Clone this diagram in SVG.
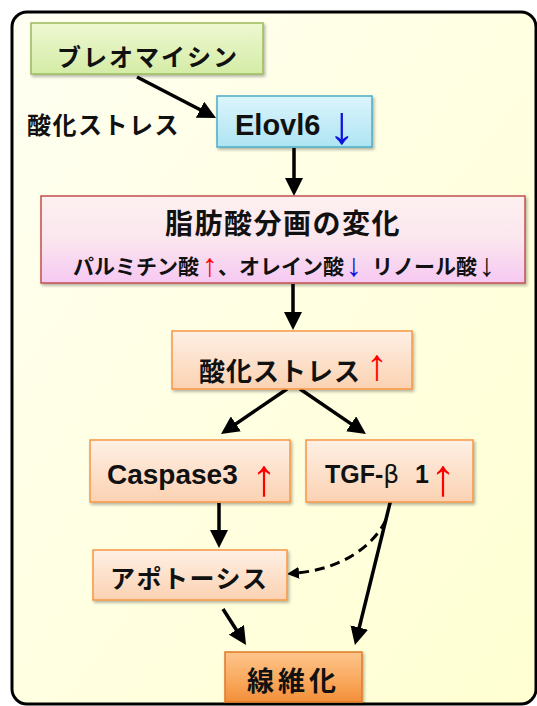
<svg xmlns="http://www.w3.org/2000/svg" width="537" height="706" viewBox="0 0 537 706">
<defs>
<linearGradient id="bg" x1="0" y1="0" x2="1" y2="1">
<stop offset="0" stop-color="#fffff2"/>
<stop offset="1" stop-color="#ffffd2"/>
</linearGradient>
<linearGradient id="gGreen" x1="0" y1="0" x2="0" y2="1">
<stop offset="0" stop-color="#eef8d2"/>
<stop offset="1" stop-color="#d4eca6"/>
</linearGradient>
<linearGradient id="gBlue" x1="0" y1="0" x2="0" y2="1">
<stop offset="0" stop-color="#dcf5fc"/>
<stop offset="1" stop-color="#aee4f3"/>
</linearGradient>
<linearGradient id="gPink" x1="0" y1="0" x2="0" y2="1">
<stop offset="0" stop-color="#fdf0f0"/>
<stop offset="0.5" stop-color="#fbe6ee"/>
<stop offset="1" stop-color="#f6c8f2"/>
</linearGradient>
<linearGradient id="gPeach" x1="0" y1="0" x2="0" y2="1">
<stop offset="0" stop-color="#fef0e5"/>
<stop offset="1" stop-color="#fbd2b2"/>
</linearGradient>
<linearGradient id="gOrange" x1="0" y1="0" x2="0" y2="1">
<stop offset="0" stop-color="#fdc58c"/>
<stop offset="0.6" stop-color="#f9a75a"/>
<stop offset="1" stop-color="#f28e3a"/>
</linearGradient>
<filter id="sh" x="-10%" y="-10%" width="120%" height="130%">
<feDropShadow dx="1.5" dy="2" stdDeviation="1.5" flood-color="#000" flood-opacity="0.3"/>
</filter>
<marker id="ah" viewBox="0 0 18 18" refX="4" refY="9" markerWidth="18" markerHeight="18" markerUnits="userSpaceOnUse" orient="auto">
<path d="M0,0 L18,9 L0,18 z" fill="#000"/>
</marker>
<marker id="ahs" viewBox="0 0 12 12" refX="2" refY="6" markerWidth="12" markerHeight="12" markerUnits="userSpaceOnUse" orient="auto">
<path d="M0,0 L12,6 L0,12 z" fill="#000"/>
</marker>
<style>
.jp{font-family:"Noto Sans CJK JP","Noto Sans",sans-serif;fill:#111;font-weight:bold}
.arw{font-family:"Liberation Sans",Arial,sans-serif;font-weight:normal;text-anchor:middle}
.lat{font-family:"Liberation Sans",Arial,sans-serif;font-weight:bold;fill:#111}
.red{fill:#ff0000}
.blue{fill:#1010e0}
.blk{fill:#111}
.box{filter:url(#sh)}
.con{stroke:#000;stroke-width:3.5;fill:none;marker-end:url(#ah)}
.dash{stroke:#000;stroke-width:3;fill:none;stroke-dasharray:10 6;marker-end:url(#ahs)}
</style>
</defs>

<rect x="12" y="12" width="524" height="692" rx="15" ry="15" fill="url(#bg)" stroke="#000" stroke-width="3"/>

<g id="connectors">
<line class="con" x1="137" y1="77" x2="203.6" y2="111.5"/>
<line class="con" x1="294" y1="148" x2="294" y2="182"/>
<line class="con" x1="293" y1="284" x2="293" y2="316"/>
<line class="con" x1="287" y1="389" x2="232.6" y2="426.1"/>
<line class="con" x1="300" y1="389" x2="354.4" y2="426.1"/>
<line class="con" x1="219" y1="503" x2="219" y2="534"/>
<line class="con" x1="223" y1="609" x2="238.5" y2="633.2"/>
<line class="con" x1="392" y1="495" x2="358.3" y2="631.4"/>
<path class="dash" d="M386,520 C372,548 340,569 297,573"/>
</g>

<g id="label-oxstress">
<text class="jp" x="27" y="134" font-size="24" letter-spacing="1.5">酸化ストレス</text>
</g>

<g id="bleomycin">
<rect class="box" x="31" y="23" width="232" height="51" fill="url(#gGreen)" stroke="#9bbb59" stroke-width="1.5"/>
<text class="jp" x="57" y="66" font-size="24" letter-spacing="2">ブレオマイシン</text>
</g>

<g id="elovl6">
<rect class="box" x="217" y="96" width="155" height="51" fill="url(#gBlue)" stroke="#4bacc6" stroke-width="1.5"/>
<text class="lat" x="235" y="135" font-size="29">Elovl6</text>
<text class="arw blue" x="342" y="143" font-size="54">↓</text>
</g>

<g id="fatty-acid">
<rect class="box" x="41" y="196" width="484" height="87" fill="url(#gPink)" stroke="#c0504d" stroke-width="1.5"/>
<text class="jp" x="283" y="234" font-size="28" letter-spacing="1.5" text-anchor="middle">脂肪酸分画の変化</text>
<text class="jp" x="73" y="274" font-size="21">パルミチン酸</text>
<text class="arw red" x="210" y="276" font-size="32">↑</text>
<text class="jp" x="218" y="274" font-size="21">、オレイン酸</text>
<text class="arw blue" x="354" y="276" font-size="32">↓</text>
<text class="jp" x="372" y="274" font-size="21">リノール酸</text>
<text class="arw blk" x="487" y="276" font-size="32">↓</text>
</g>

<g id="oxstress">
<rect class="box" x="172" y="331" width="240" height="58" fill="url(#gPeach)" stroke="#f79646" stroke-width="1.5"/>
<text class="jp" x="199" y="381" font-size="26" letter-spacing="1">酸化ストレス</text>
<text class="arw red" x="377" y="380" font-size="44">↑</text>
</g>

<g id="caspase3">
<rect class="box" x="90" y="440" width="200" height="62" fill="url(#gPeach)" stroke="#f79646" stroke-width="1.5"/>
<text class="lat" x="107" y="484" font-size="28">Caspase3</text>
<text class="arw red" x="264" y="495" font-size="52">↑</text>
</g>

<g id="tgf">
<rect class="box" x="306" y="440" width="167" height="62" fill="url(#gPeach)" stroke="#f79646" stroke-width="1.5"/>
<text class="lat" x="325" y="483" font-size="25">TGF-<tspan font-family="DejaVu Sans" font-weight="normal">β</tspan><tspan x="415">1</tspan></text>
<text class="arw red" x="443" y="495" font-size="52">↑</text>
</g>

<g id="apoptosis">
<rect class="box" x="93" y="550" width="194" height="50" fill="url(#gPeach)" stroke="#f79646" stroke-width="1.5"/>
<text class="jp" x="110" y="588" font-size="25" letter-spacing="1.5">アポトーシス</text>
</g>

<g id="fibrosis">
<rect class="box" x="225" y="652" width="137" height="50" fill="url(#gOrange)" stroke="#e07b28" stroke-width="1.5"/>
<text class="jp" x="247" y="691" font-size="27" letter-spacing="4">線維化</text>
</g>
</svg>
